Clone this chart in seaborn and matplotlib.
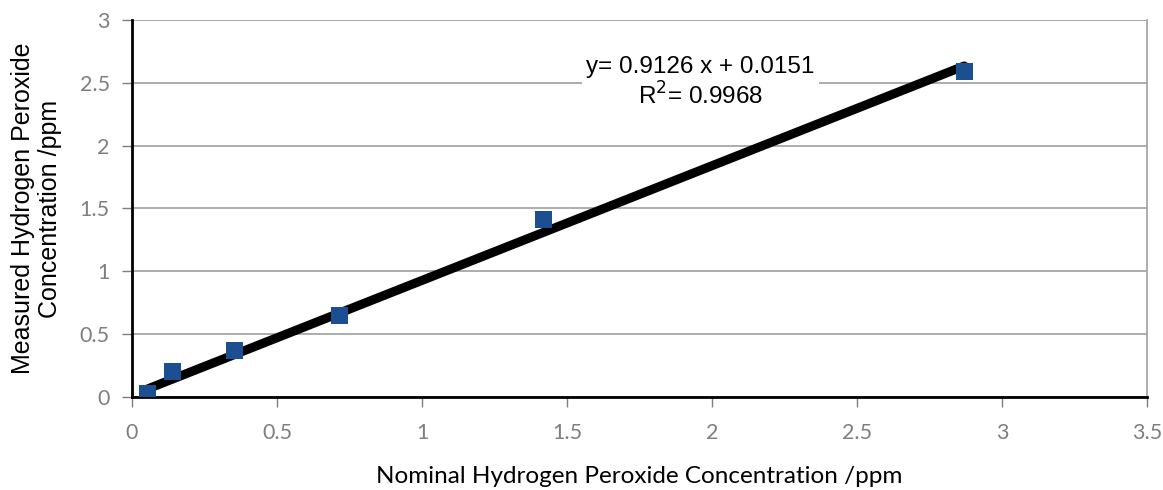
import pandas as pd
import matplotlib
matplotlib.use("Agg")
import matplotlib.pyplot as plt
import seaborn as sns

# data
nominal = [0.055, 0.14, 0.355, 0.714, 1.42, 2.87]
measured = [0.03, 0.20, 0.37, 0.65, 1.41, 2.59]
slope = 0.9126
intercept = 0.0151
r_squared = 0.9968

df = pd.DataFrame({"Nominal": nominal, "Measured": measured})

sns.set_theme(style="white")
plt.rcParams["font.family"] = ["Lato", "DejaVu Sans"]

fig = plt.figure(figsize=(11.63, 4.9), dpi=100)
ax = fig.add_axes([0.1135, 0.1898, 0.8727, 0.7694])

# trendline over data range
x_fit = [min(nominal), max(nominal)]
y_fit = [slope * x + intercept for x in x_fit]
sns.lineplot(x=x_fit, y=y_fit, color="black", linewidth=6.5, ax=ax, zorder=2)

sns.scatterplot(data=df, x="Nominal", y="Measured", marker="s", s=150,
                color="#1B4F91", edgecolor="none", ax=ax, zorder=3)

ax.set_xlim(0, 3.5)
ax.set_ylim(0, 3)
ax.set_xticks([0, 0.5, 1, 1.5, 2, 2.5, 3, 3.5])
ax.set_xticklabels(["0", "0.5", "1", "1.5", "2", "2.5", "3", "3.5"])
ax.set_yticks([0, 0.5, 1, 1.5, 2, 2.5, 3])
ax.set_yticklabels(["0", "0.5", "1", "1.5", "2", "2.5", "3"])

ax.yaxis.grid(True, color="#a6a6a6", linewidth=1.3)
ax.xaxis.grid(False)
ax.set_axisbelow(True)

ax.spines["left"].set_color("black")
ax.spines["left"].set_linewidth(2)
ax.spines["bottom"].set_color("black")
ax.spines["bottom"].set_linewidth(2)
ax.spines["right"].set_color("#a6a6a6")
ax.spines["right"].set_linewidth(1.3)
ax.spines["top"].set_visible(False)

ax.tick_params(axis="both", which="major", labelsize=15.5, labelcolor="#7f7f7f",
               color="#7f7f7f", length=7, width=1, direction="out",
               bottom=True, left=True)
ax.tick_params(axis="x", pad=12)
ax.tick_params(axis="y", pad=9)

ax.set_xlabel("Nominal Hydrogen Peroxide Concentration /ppm", fontsize=17.5,
              color="black", labelpad=16)
ax.set_ylabel("Measured Hydrogen Peroxide\nConcentration /ppm", fontsize=18,
              color="black", labelpad=13, linespacing=1.15,
              family=["Liberation Sans", "DejaVu Sans"])

ax.text(1.96, 2.5, f"y= {slope} x + {intercept}\nR$^2$= {r_squared}",
        ha="center", va="center", fontsize=17.5, color="black", linespacing=1.2,
        family=["Liberation Sans", "DejaVu Sans"],
        bbox=dict(facecolor="white", edgecolor="none", pad=3), zorder=4)

fig.savefig("out.png", dpi=100)
